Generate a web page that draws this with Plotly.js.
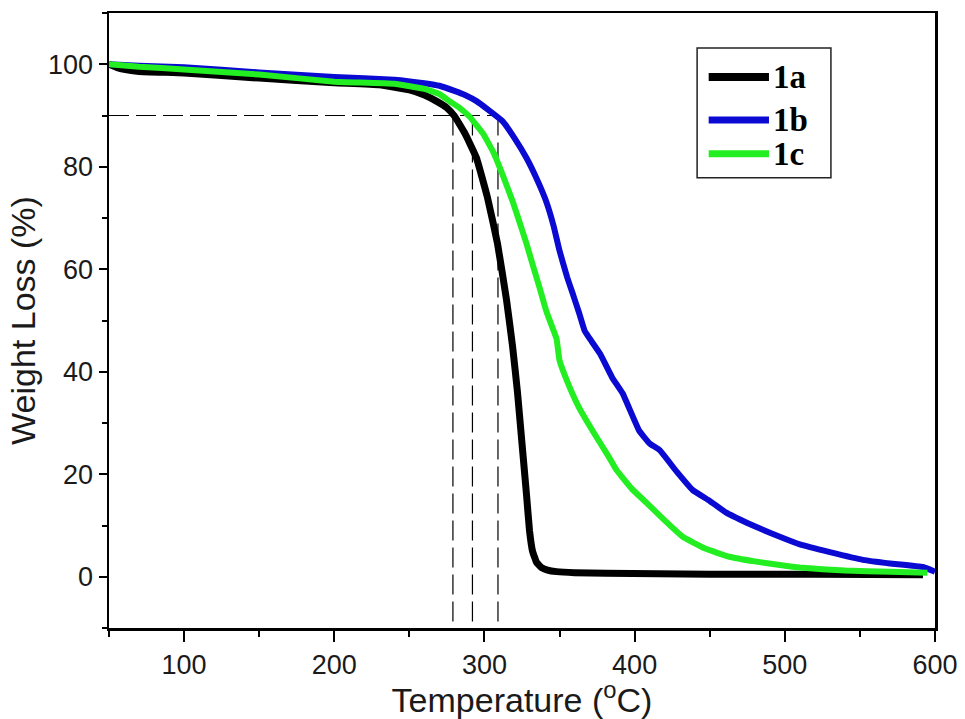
<!DOCTYPE html>
<html>
<head>
<meta charset="utf-8">
<script src="https://cdn.plot.ly/plotly-3.0.1.min.js"></script>
<style>html,body{margin:0;padding:0;background:#fff;}#chart{width:965px;height:719px;}</style>
</head>
<body>
<div id="chart"></div>
<script>
// ---- data ----
const seriesNames = ['1a', '1b', '1c'];

const T_1a = [50, 55, 60, 70, 100, 150, 200, 230, 250, 260, 268, 275, 280, 287, 294.7, 302, 308.7, 314.7, 318.7, 322, 325.3, 328, 330, 332, 334.7, 338, 342, 348, 360, 381, 450, 520, 592];
const W_1a = [100, 99.4, 99, 98.6, 98.3, 97.3, 96.4, 96, 95, 94, 92.8, 91.5, 89.9, 86.5, 81.7, 74, 65, 54, 45, 36, 25, 16, 9, 5, 2.8, 1.8, 1.3, 1.0, 0.8, 0.7, 0.5, 0.5, 0.4];

const T_1b = [50, 70, 100, 150, 200, 240, 260, 270, 280, 287, 294.7, 303, 312, 320, 328, 335, 341, 346, 350, 355, 358.7, 363, 366.7, 370, 377, 385, 392, 403, 410, 416.7, 428, 438.7, 450, 461, 475, 485, 496.7, 510, 530, 552, 570, 592, 600];
const W_1b = [100, 99.7, 99.4, 98.4, 97.5, 97, 96.3, 95.8, 94.8, 94, 92.8, 91, 88.9, 85.6, 81.7, 77.5, 73.3, 68.5, 63.6, 58.5, 55.3, 51.5, 48, 46.5, 43.5, 38.9, 35.8, 28.5, 26, 24.7, 20.5, 16.9, 14.8, 12.5, 10.5, 9.2, 7.8, 6.3, 4.8, 3.3, 2.6, 1.9, 1.0];

const T_1c = [50, 70, 100, 150, 200, 240, 260, 270, 276.7, 283, 290, 299, 306, 312, 318.7, 323, 328, 332, 336.7, 341, 346.7, 348, 350, 356, 363, 373, 383, 388, 398, 408, 420, 432, 447, 463, 480, 496.7, 510, 540, 570, 595];
const W_1c = [100, 99.5, 99, 98, 96.6, 96.2, 95.2, 94.2, 92.8, 91.6, 89.8, 86.5, 82.8, 78.5, 73.3, 69.5, 65, 61, 56.4, 52, 47.5, 46.5, 42.2, 37.5, 33, 28, 23.3, 20.8, 17.2, 14.4, 11, 7.8, 5.5, 3.9, 3.0, 2.3, 1.8, 1.2, 1.0, 0.8];

// 10% weight-loss onset temperatures (dashed guide lines)
const onsetT = [279, 292, 309];
const onsetW = 90;
const xMin = 50, yMin = -10;

// ---- styles ----
const colors = ['#000000', '#0a0ad2', '#22ee22'];
const widths = [7, 6, 6];
const seriesT = [T_1a, T_1b, T_1c];
const seriesW = [W_1a, W_1b, W_1c];

const traces = [];
const guide = {color: '#000', width: 1.2, dash: '20px,7px'};
traces.push({x: [xMin, Math.max(...onsetT)], y: [onsetW, onsetW], mode: 'lines', line: guide, showlegend: false, hoverinfo: 'skip'});
onsetT.forEach(t => {
  traces.push({x: [t, t], y: [onsetW, yMin], mode: 'lines', line: guide, showlegend: false, hoverinfo: 'skip'});
});
seriesNames.forEach((n, i) => {
  traces.push({x: seriesT[i], y: seriesW[i], name: n, mode: 'lines',
    line: {color: colors[i], width: widths[i], shape: 'spline', smoothing: 0.3}, showlegend: false});
});

// custom legend (paper coords)
const shapes = [{type: 'rect', xref: 'paper', yref: 'paper', x0: 0.712, x1: 0.874, y0: 0.732, y1: 0.943,
  line: {color: '#222', width: 1.5}, fillcolor: 'rgba(0,0,0,0)'}];
const annotations = [];
const rowY = [0.896, 0.826, 0.771];
seriesNames.forEach((n, i) => {
  shapes.push({type: 'line', xref: 'paper', yref: 'paper', x0: 0.726, x1: 0.799, y0: rowY[i], y1: rowY[i],
    line: {color: colors[i], width: widths[i] + 1}});
  annotations.push({xref: 'paper', yref: 'paper', x: 0.802, y: rowY[i], xanchor: 'left', yanchor: 'middle',
    text: '<b>' + n + '</b>', showarrow: false, font: {family: 'Liberation Serif, Times New Roman, serif', size: 33, color: '#000'}});
});

const axisFont = {family: 'Liberation Sans, Arial, sans-serif', size: 27, color: '#1a1a1a'};
const titleFont = {family: 'Liberation Sans, Arial, sans-serif', size: 34, color: '#1a1a1a'};
const layout = {
  width: 965, height: 719,
  margin: {l: 109, r: 30, t: 13, b: 91},
  paper_bgcolor: '#fff', plot_bgcolor: '#fff',
  showlegend: false,
  xaxis: {
    range: [50, 600], dtick: 100, tick0: 0, ticks: 'outside', ticklen: 11, tickwidth: 2, tickcolor: '#000',
    minor: {dtick: 50, tick0: 0, ticks: 'outside', ticklen: 6, tickwidth: 2, tickcolor: '#000'},
    showline: true, linewidth: 2.5, linecolor: '#000', mirror: true,
    showgrid: false, zeroline: false, tickfont: axisFont,
    title: {text: 'Temperature (<sup>o</sup>C)', font: titleFont, standoff: 0}
  },
  yaxis: {
    range: [-10, 110], dtick: 20, tick0: 0, ticks: 'outside', ticklen: 8, tickwidth: 2, tickcolor: '#000',
    minor: {dtick: 10, tick0: 0, ticks: 'outside', ticklen: 5, tickwidth: 2, tickcolor: '#000'},
    showline: true, linewidth: 2.5, linecolor: '#000', mirror: true,
    showgrid: false, zeroline: false, tickfont: axisFont,
    title: {text: 'Weight Loss (%)', font: titleFont, standoff: 2}
  },
  shapes: shapes,
  annotations: annotations
};

Plotly.newPlot('chart', traces, layout, {displayModeBar: false, staticPlot: true});
</script>
</body>
</html>
